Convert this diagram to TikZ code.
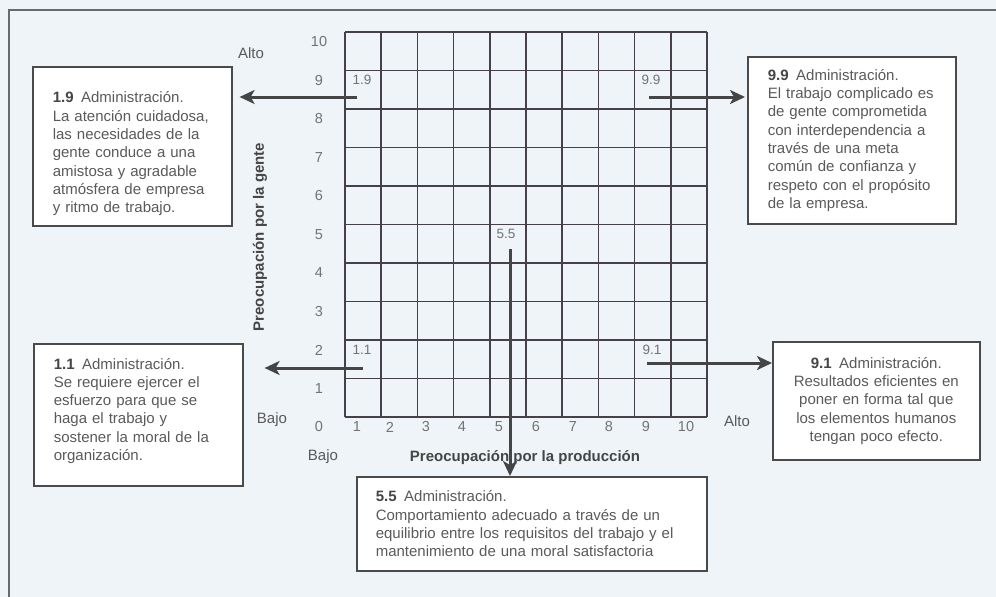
\documentclass[tikz,border=0pt]{standalone}
\usepackage{fontspec}
\setmainfont{Liberation Sans}
\usetikzlibrary{arrows.meta}
\definecolor{paper}{HTML}{EEF4F7}
\definecolor{ink}{HTML}{5A5A5A}
\definecolor{inkdark}{HTML}{454545}
\definecolor{edge}{HTML}{4A4A4A}
\definecolor{gridc}{HTML}{46404A}
\definecolor{framec}{HTML}{6A6A6A}

\begin{document}
\begin{tikzpicture}[x=1pt,y=-1pt,
  txt/.style={font=\fontsize{15}{18}\selectfont, text=ink, inner sep=0pt},
  num/.style={font=\fontsize{14.5}{16}\selectfont, text=ink!85, inner sep=0pt},
  axistitle/.style={font=\fontsize{15}{18}\selectfont\bfseries, text=inkdark, inner sep=0pt},
  cell/.style={font=\fontsize{13.5}{16}\selectfont, text=ink!85, inner sep=0pt},
  box/.style={draw=edge, line width=1.6pt, fill=white, anchor=north west,
    inner xsep=20pt, inner ysep=0pt, align=left, text=ink,
    font=\fontsize{15}{18.3}\selectfont},
  gridline/.style={draw=gridc, line width=1.7pt},
  frame/.style={draw=framec, line width=1.4pt},
  arr/.style={draw=inkdark, line width=3pt,
    -{Stealth[length=15pt,width=14pt,inset=4pt]}}
]
% paper and outer frame
\fill[paper] (0,0) rectangle (996,597);
\useasboundingbox (0,0) rectangle (996,597);
\draw[frame] (9,597) -- (9,10) -- (996,10);

% managerial grid 10 x 10
\foreach \i in {0,...,10}{
  \draw[gridline] (345+36.2*\i,32) -- (345+36.2*\i,417);
  \draw[gridline] (345,32+38.5*\i) -- (707,32+38.5*\i);
}

% vertical scale
\foreach \k in {0,...,10}
  \node[num] (y\k) at (319,427-38.5*\k) {\k};
% horizontal scale
\foreach \k/\xx in {1/357,2/390,3/426,4/462,5/499,6/536,7/573,8/609,9/646,10/686}
  \node[num] (x\k) at (\xx,427) {\k};

\node[txt] (altoY) at (251,53) {Alto};
\node[txt] (bajoY) at (272,420) {Bajo};
\node[txt] (bajoX) at (323,457) {Bajo};
\node[txt] (altoX) at (737,421) {Alto};

\node[axistitle] (titleX) at (525,458) {Preocupación por la producción};
\node[axistitle, rotate=90] (titleY) at (260,237) {Preocupación por la gente};

% grid positions
\node[cell] (c19) at (362,80) {1.9};
\node[cell] (c99) at (651,80) {9.9};
\node[cell] (c55) at (506,234) {5.5};
\node[cell] (c11) at (362,350) {1.1};
\node[cell] (c91) at (652,350) {9.1};

% description boxes
\node[box, text width=159pt, minimum height=159pt] (box19) at (32,66)
 {\rule{0pt}{26pt}\textcolor{inkdark}{\textbf{1.9}}\, Administración.\\
  La atención cuidadosa,\\
  las necesidades de la\\
  gente conduce a una\\
  amistosa y agradable\\
  atmósfera de empresa\\
  y ritmo de trabajo.};

\node[box, text width=168pt, minimum height=167pt] (box99) at (747,56)
 {\textcolor{inkdark}{\textbf{9.9}}\, Administración.\\
  El trabajo complicado es\\
  de gente comprometida\\
  con interdependencia a\\
  través de una meta\\
  común de confianza y\\
  respeto con el propósito\\
  de la empresa.};

\node[box, text width=169pt, minimum height=142pt] (box11) at (33,343)
 {\textcolor{inkdark}{\textbf{1.1}}\, Administración.\\
  Se requiere ejercer el\\
  esfuerzo para que se\\
  haga el trabajo y\\
  sostener la moral de la\\
  organización.\par\vspace*{8pt}};

\node[box, align=center, inner xsep=10pt, text width=187pt, minimum height=118pt] (box91) at (772,341)
 {\textcolor{inkdark}{\textbf{9.1}}\, Administración.\\
  Resultados eficientes en\\
  poner en forma tal que\\
  los elementos humanos\\
  tengan poco efecto.};

\node[box, inner xsep=19pt, text width=312pt, minimum height=94pt] (box55) at (356,476)
 {\textcolor{inkdark}{\textbf{5.5}}\, Administración.\\
  Comportamiento adecuado a través de un\\
  equilibrio entre los requisitos del trabajo y el\\
  mantenimiento de una moral satisfactoria};

% arrows from grid positions to their descriptions
\coordinate (s19) at (357,97);
\coordinate (s99) at (649,97);
\coordinate (s11) at (363,368);
\coordinate (s91) at (647,363);
\coordinate (s55) at (510,249);

\draw[arr] (s19) -- ([xshift=7pt]s19 -| box19.east);
\draw[arr] (s99) -- ([xshift=-2pt]s99 -| box99.west);
\draw[arr] (s11) -- ([xshift=21pt]s11 -| box11.east);
\draw[arr] (s91) -- (s91 -| box91.west);
\draw[arr] (s55) -- (s55 |- box55.north);
\end{tikzpicture}
\end{document}
